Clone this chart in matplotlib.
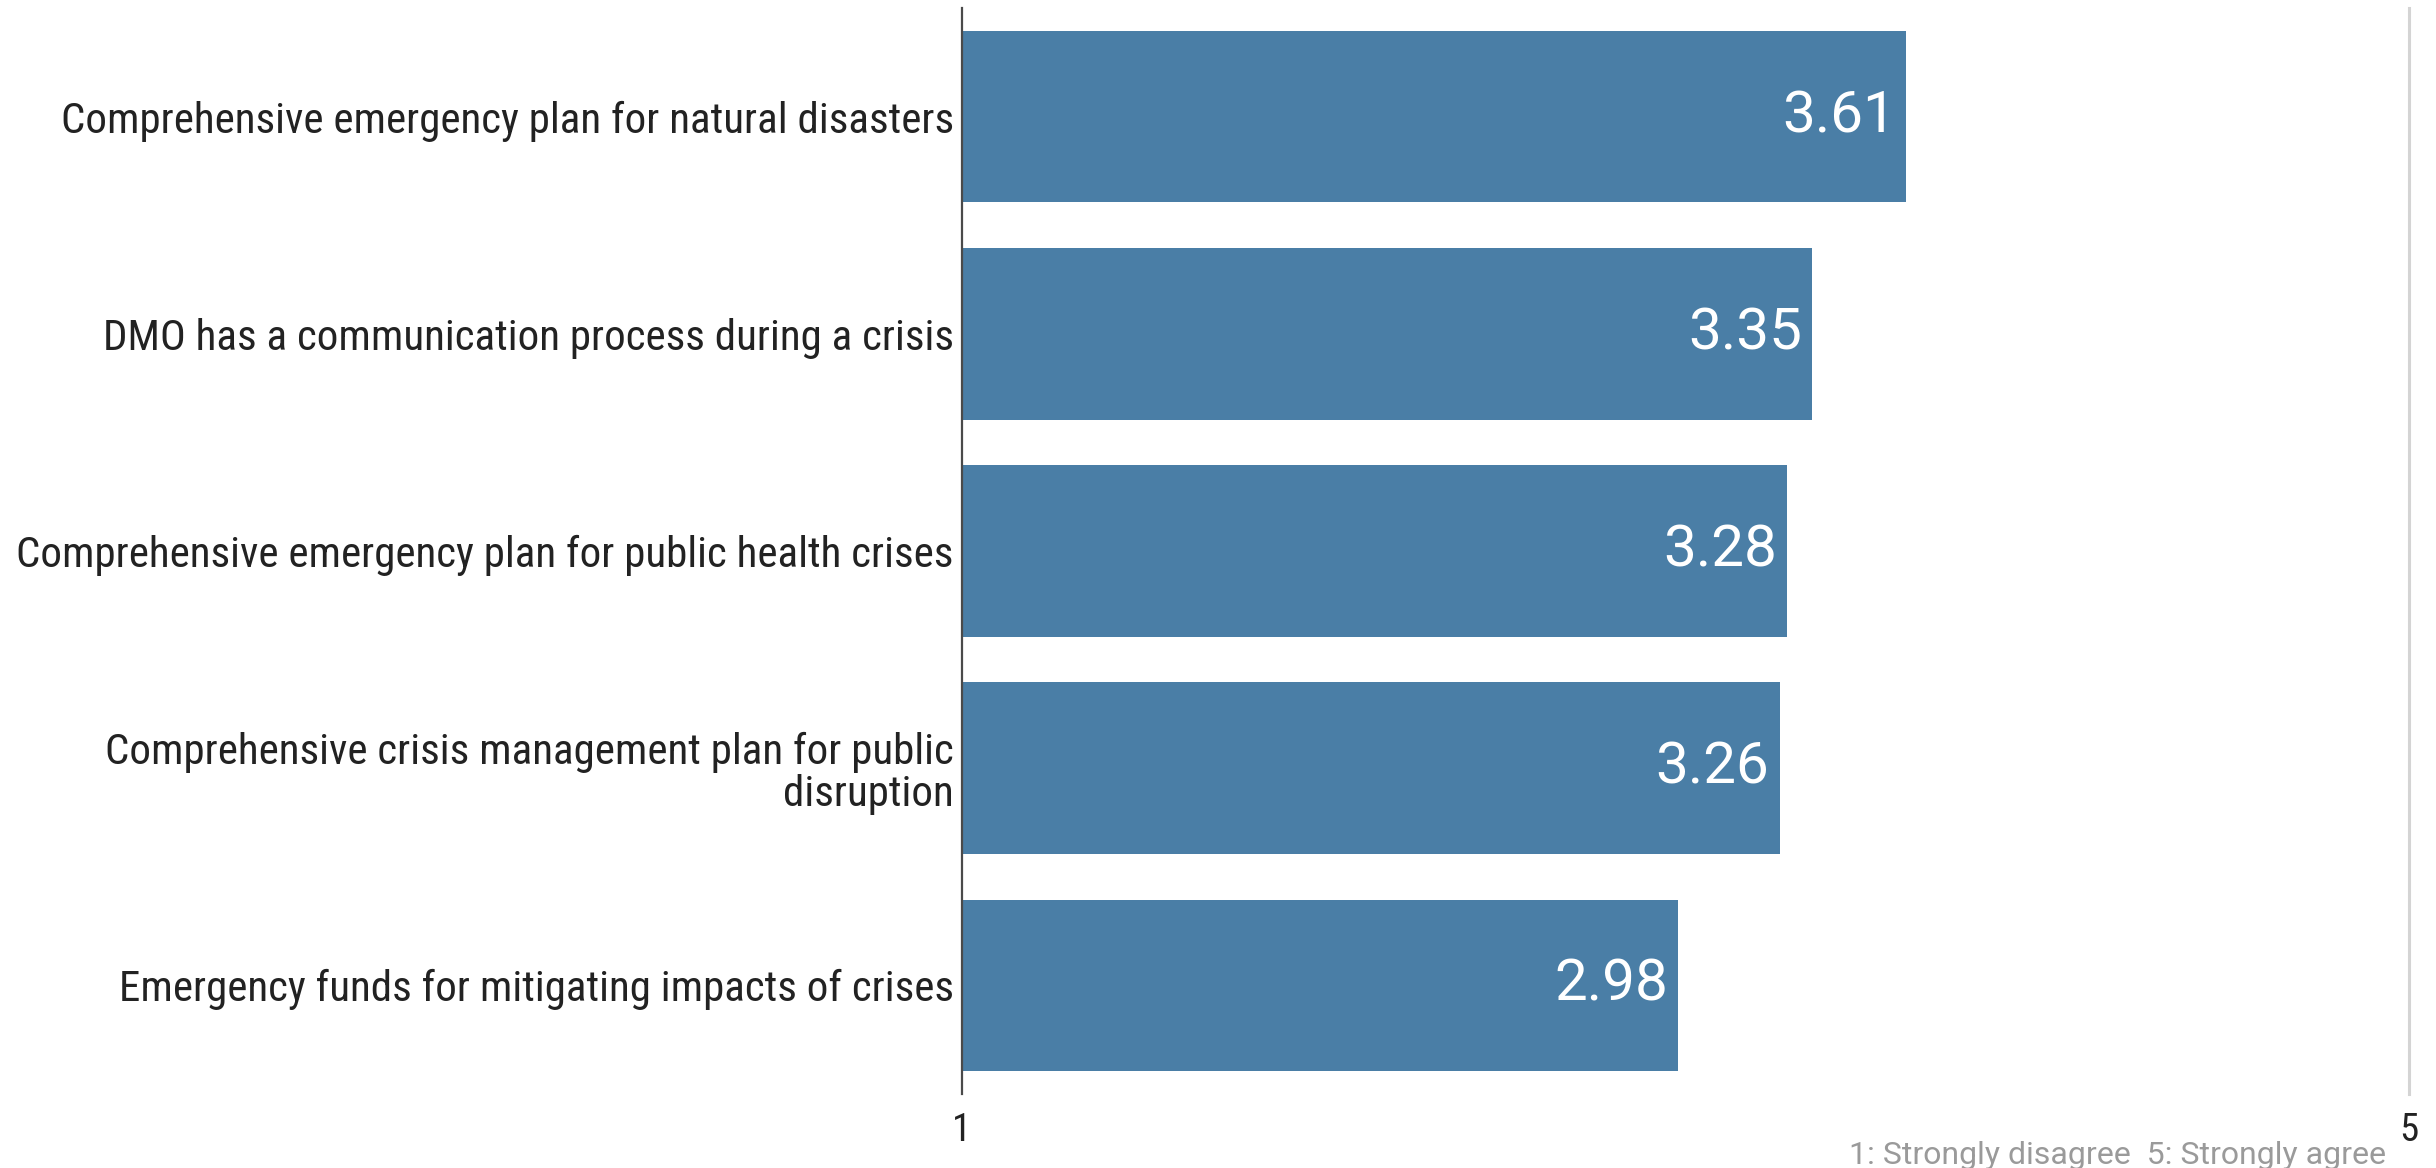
import numpy as np
import matplotlib
matplotlib.use("Agg")
import matplotlib.pyplot as plt

categories = [
    "Comprehensive emergency plan for natural disasters",
    "DMO has a communication process during a crisis",
    "Comprehensive emergency plan for public health crises",
    "Comprehensive crisis management plan for public\ndisruption",
    "Emergency funds for mitigating impacts of crises",
]
scores = [3.61, 3.35, 3.28, 3.26, 2.98]
scale_min, scale_max = 1, 5
note = "1: Strongly disagree  5: Strongly agree"

bar_color = "#4a7ea6"
cond = "Roboto Condensed"

fig = plt.figure(figsize=(24.36, 11.68), dpi=100)
ax = fig.add_axes([0.3949, 0.0634, 0.5940, 0.9298])

y = np.arange(len(categories))
# bars start at the bottom of the 1-5 scale
ax.barh(y, np.array(scores) - scale_min, left=scale_min, height=0.79,
        color=bar_color, zorder=2)

for yi, v in zip(y, scores):
    ax.text(v - 0.028, yi, f"{v:.2f}", ha="right", va="center",
            color="white", fontsize=42, family="Roboto", zorder=3)

ax.set_xlim(scale_min, scale_max)
ax.set_ylim(len(categories) - 0.5, -0.5)

ax.set_yticks(y)
ax.set_yticklabels(categories, fontsize=31, family=cond, color="#222222",
                   linespacing=1.05)
ax.set_xticks([scale_min, scale_max])
ax.set_xticklabels([str(scale_min), str(scale_max)], fontsize=28,
                   family=cond, color="#222222")
ax.tick_params(axis="y", length=0, pad=6)
ax.tick_params(axis="x", length=0, pad=13)

for s in ("top", "bottom"):
    ax.spines[s].set_visible(False)
ax.spines["left"].set_color("#4a4a4a")
ax.spines["left"].set_linewidth(1.6)
ax.spines["right"].set_color("#d4d4d4")
ax.spines["right"].set_linewidth(2.2)

fig.text(2386 / 2436, 4 / 1168, note, ha="right", va="baseline",
         fontsize=23, family="Roboto", color="#9a9a9a")

fig.savefig("out.png")
